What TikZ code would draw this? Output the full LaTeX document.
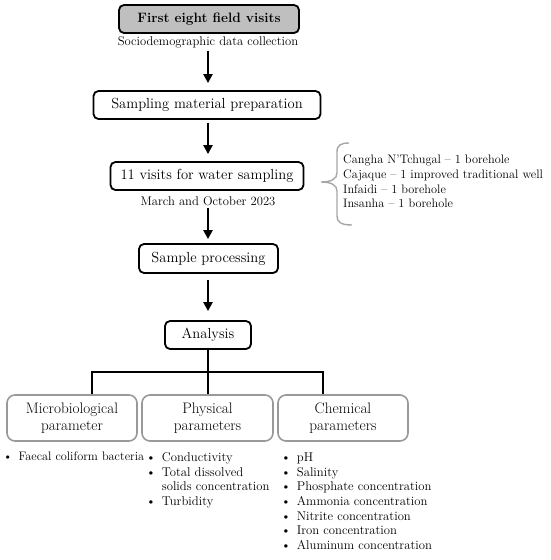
\documentclass[tikz,border=0pt]{standalone}
\usetikzlibrary{arrows.meta}
\begin{document}
\begin{tikzpicture}[x=1pt,y=-1pt,
  mainbox/.style={draw=black,line width=1.8pt,rounded corners=5pt,inner sep=0pt,
    minimum height=28pt,font=\fontsize{14.6}{16}\selectfont},
  subtxt/.style={inner sep=0pt,font=\fontsize{12.6}{13}\selectfont},
  parbox/.style={draw=black!40,line width=1.6pt,rounded corners=8pt,inner sep=0pt,
    minimum width=130pt,minimum height=46pt,align=center,
    font=\fontsize{15.2}{17}\selectfont},
  arr/.style={line width=2.2pt,-{Triangle[length=9pt,width=9pt]}},
  tree/.style={line width=2.6pt},
  brace/.style={draw=black!35,line width=1.4pt},
  listtxt/.style={inner sep=0pt,anchor=north west,align=left,
    font=\fontsize{12.7}{14.7}\selectfont}
]
\useasboundingbox (0,0) rectangle (550,560);

\node[mainbox,fill=black!25,minimum width=180pt,font=\fontsize{13.6}{15}\selectfont\bfseries] (b1) at (209,19) {First eight field visits};
\node[subtxt] (soc) at (208,42) {Sociodemographic data collection};
\node[mainbox,minimum width=227pt] (b2) at (207,105) {Sampling material preparation};
\node[mainbox,minimum width=193pt] (b3) at (207,176) {11 visits for water sampling};
\node[subtxt] (mar) at (208,201) {March and October 2023};
\node[mainbox,minimum width=139pt,minimum height=29pt] (b4) at (208.5,258.5) {Sample processing};
\node[mainbox,minimum width=86pt] (b5) at (208,335) {Analysis};

\coordinate (ax) at (208,0);
\draw[arr,shorten <=3pt,shorten >=7pt] (ax |- soc.south) -- (ax |- b2.north);
\draw[arr,shorten <=3pt,shorten >=7pt] (ax |- b2.south) -- (ax |- b3.north);
\draw[arr,shorten <=2pt,shorten >=4pt] (ax |- mar.south) -- (ax |- b4.north);
\draw[arr,shorten <=6pt,shorten >=9pt] (ax |- b4.south) -- (ax |- b5.north);

% bracket with sites
\draw[brace] (349,143) .. controls (341,143) and (337,145) .. (337,152) -- (337,173)
  .. controls (337,179) and (331,182) .. (321,182)
  .. controls (331,182) and (337,185) .. (337,191) -- (337,216)
  .. controls (337,222) and (341,225) .. (352,225);
\node[listtxt,font=\fontsize{12.3}{14.6}\selectfont] (sites) at (343,155) {Cangha N'Tchugal -- 1 borehole\\Cajaque -- 1 improved traditional well\\Infaidi -- 1 borehole\\Insanha -- 1 borehole};

% parameter boxes
\node[parbox] (mic) at (72,418) {Microbiological\\parameter};
\node[parbox,minimum width=131pt] (phy) at (207.5,418) {Physical\\parameters};
\node[parbox] (che) at (343,418) {Chemical\\parameters};

\coordinate (j) at (208,372);
\coordinate (jl) at (92,372);
\coordinate (jr) at (323,372);
\draw[tree] (ax |- b5.south) -- (j);
\draw[tree] (jl |- mic.north) -- (jl) -- (jr) -- (jr |- che.north);
\draw[tree] (j) -- (j |- phy.north);

\node[listtxt,font=\fontsize{12.3}{14.7}\selectfont] (lm) at (3,451.3) {\textbullet\hspace{6pt}Faecal coliform bacteria};
\node[listtxt] (lp) at (146,451) {\begin{tabular}{@{}l@{\hspace{6pt}}l@{}}\textbullet & Conductivity\\ \textbullet & Total dissolved\\ & solids concentration\\ \textbullet & Turbidity\end{tabular}};
\node[listtxt] (lc) at (281,451) {\begin{tabular}{@{}l@{\hspace{6pt}}l@{}}\textbullet & pH\\ \textbullet & Salinity\\ \textbullet & Phosphate concentration\\ \textbullet & Ammonia concentration\\ \textbullet & Nitrite concentration\\ \textbullet & Iron concentration\\ \textbullet & Aluminum concentration\end{tabular}};
\end{tikzpicture}
\end{document}
